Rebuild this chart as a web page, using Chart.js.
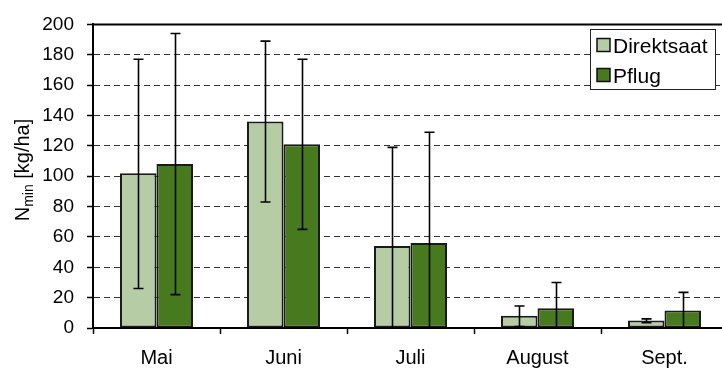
<!DOCTYPE html>
<html>
<head>
<meta charset="utf-8">
<script src="https://cdn.jsdelivr.net/npm/chart.js@4/dist/chart.umd.min.js"></script>
<style>
  html, body { margin: 0; padding: 0; background: #fff; overflow: hidden; }
  canvas { display: block; }
</style>
</head>
<body>
<canvas id="myChart" width="735" height="369"></canvas>
<script>
// categories and values
const months = ['Mai', 'Juni', 'Juli', 'August', 'Sept.']
const direktsaat = [102, 136, 54, 8, 5]
const pflug = [108, 121, 56, 13, 11.5]
// error bar ends (upper / lower)
const direktHigh = [177, 189, 119, 14.5, 6]
const direktLow = [26, 83, -11, 1, 3.5]
const pflugHigh = [194, 177, 129, 30, 23.5]
const pflugLow = [22, 65, -17, -4, -0.5]
const yTicks = [0, 20, 40, 60, 80, 100, 120, 140, 160, 180, 200]

const errorBars = [
  { high: direktHigh, low: direktLow },
  { high: pflugHigh, low: pflugLow }
]

const FONT = 'Arial, "Liberation Sans", sans-serif'

// whiskers, top frame line, legend box and axis title
const extras = {
  id: 'extras',
  afterDatasetsDraw(chart) {
    const ctx = chart.ctx
    const y = chart.scales.y
    const area = chart.chartArea
    ctx.save()
    ctx.beginPath()
    ctx.rect(area.left, area.top - 2, area.right - area.left, area.bottom - area.top + 2)
    ctx.clip()
    ctx.strokeStyle = '#000'
    ctx.lineWidth = 1.6
    errorBars.forEach(function(eb, d) {
      const meta = chart.getDatasetMeta(d)
      meta.data.forEach(function(bar, i) {
        const x = Math.round(bar.x) + 0.5
        const yh = y.getPixelForValue(eb.high[i])
        const yl = y.getPixelForValue(eb.low[i])
        ctx.beginPath()
        ctx.moveTo(x, yh)
        ctx.lineTo(x, yl)
        ctx.moveTo(x - 5, yh)
        ctx.lineTo(x + 5, yh)
        if (eb.low[i] >= 0) {
          ctx.moveTo(x - 5, yl)
          ctx.lineTo(x + 5, yl)
        }
        ctx.stroke()
      })
    })
    ctx.restore()
  },
  afterDraw(chart) {
    const ctx = chart.ctx
    const area = chart.chartArea
    ctx.save()
    // top frame
    ctx.strokeStyle = '#000'
    ctx.lineWidth = 2
    ctx.beginPath()
    ctx.moveTo(area.left - 1, area.top)
    ctx.lineTo(area.right, area.top)
    ctx.stroke()

    // legend
    const lx = 590.5, ly = 29.5, lw = 125, lh = 60
    ctx.fillStyle = '#fff'
    ctx.fillRect(lx, ly, lw, lh)
    ctx.strokeStyle = '#222'
    ctx.lineWidth = 1
    ctx.strokeRect(lx, ly, lw, lh)
    const items = [
      { text: 'Direktsaat', color: chart.data.datasets[0].backgroundColor, y: 38.5 },
      { text: 'Pflug', color: chart.data.datasets[1].backgroundColor, y: 68.5 }
    ]
    ctx.font = '21px ' + FONT
    ctx.textBaseline = 'alphabetic'
    items.forEach(function(it) {
      ctx.fillStyle = it.color
      ctx.fillRect(597, it.y, 13, 13)
      ctx.strokeStyle = '#111'
      ctx.lineWidth = 1.5
      ctx.strokeRect(597, it.y, 13, 13)
      ctx.fillStyle = '#000'
      ctx.fillText(it.text, 613, it.y + 14)
    })

    // y axis title N_min [kg/ha]
    ctx.translate(29, 170)
    ctx.rotate(-Math.PI / 2)
    const big = '20px ' + FONT, small = '14px ' + FONT
    ctx.font = big
    const wN = ctx.measureText('N').width
    const wRest = ctx.measureText(' [kg/ha]').width
    ctx.font = small
    const wSub = ctx.measureText('min').width
    let x0 = -(wN + wSub + wRest) / 2
    ctx.fillStyle = '#000'
    ctx.font = big
    ctx.fillText('N', x0, 0)
    ctx.font = small
    ctx.fillText('min', x0 + wN, 4)
    ctx.font = big
    ctx.fillText(' [kg/ha]', x0 + wN + wSub, 0)
    ctx.restore()
  }
}

const data = {
  labels: months,
  datasets: [
    {
      label: 'Direktsaat',
      data: direktsaat,
      backgroundColor: '#b5cca5',
      borderColor: '#1a1a1a',
      borderWidth: 2,
      borderSkipped: false
    },
    {
      label: 'Pflug',
      data: pflug,
      backgroundColor: '#477a1e',
      borderColor: '#1a1a1a',
      borderWidth: 2,
      borderSkipped: false
    }
  ]
}

const config = {
  type: 'bar',
  data,
  options: {
    responsive: false,
    animation: false,
    devicePixelRatio: 1,
    layout: { padding: { top: 19, right: 7, left: 0, bottom: 0 } },
    datasets: { bar: { barPercentage: 1.0, categoryPercentage: 0.575 } },
    plugins: {
      legend: { display: false },
      tooltip: { enabled: false }
    },
    scales: {
      x: {
        afterFit(scale) { scale.height = 41 },
        grid: {
          offset: true,
          drawOnChartArea: false,
          drawTicks: true,
          tickLength: 6,
          tickColor: '#000',
          tickWidth: 1.5
        },
        border: { display: true, color: '#000', width: 2 },
        ticks: {
          color: '#000',
          padding: 12,
          font: { family: FONT, size: 20 }
        }
      },
      y: {
        min: 0,
        max: 200,
        afterFit(scale) { scale.width = 93 },
        afterBuildTicks(scale) {
          scale.ticks = yTicks.map(function(v) { return { value: v } })
        },
        grid: {
          color: '#333',
          lineWidth: 1,
          drawTicks: true,
          tickLength: 6,
          tickColor: '#000',
          tickWidth: 1.5,
          tickBorderDash: []
        },
        border: { display: true, color: '#000', width: 2, dash: [6, 4] },
        ticks: {
          color: '#000',
          padding: 13,
          font: { family: FONT, size: 19 }
        }
      }
    }
  },
  plugins: [extras]
}

const myChart = new Chart(document.getElementById('myChart'), config)
</script>
</body>
</html>
